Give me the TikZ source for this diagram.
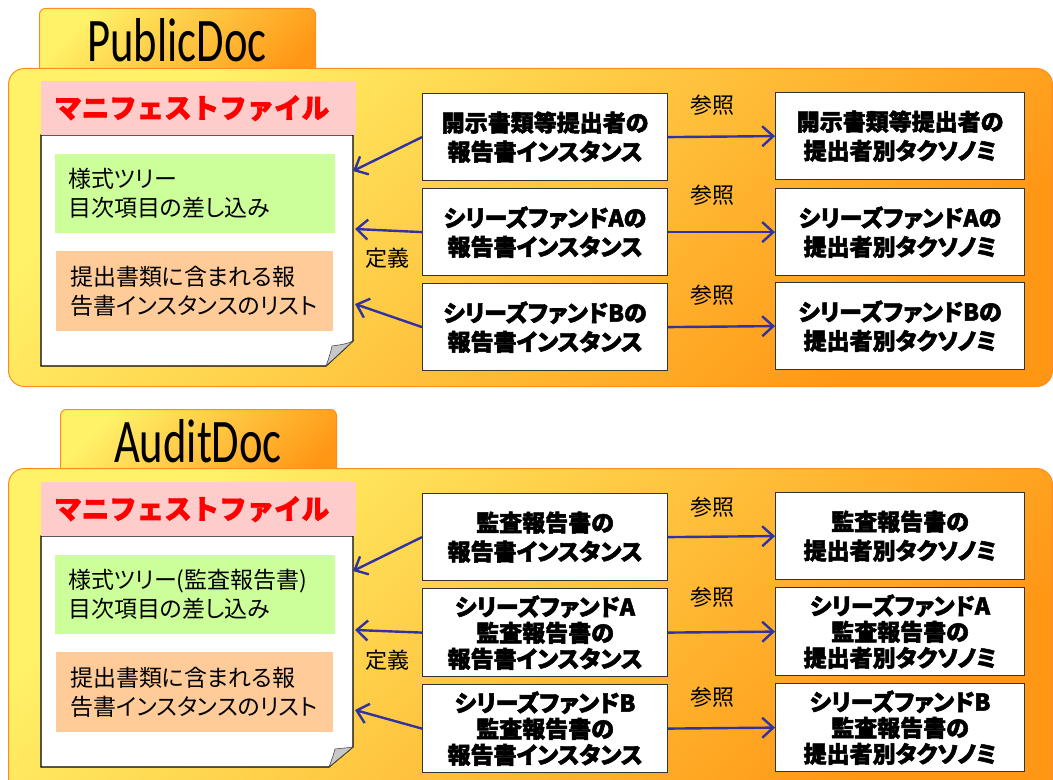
\documentclass[tikz,border=0pt]{standalone}
\usepackage{graphicx}
\usepackage{fontspec}
\setmainfont{Noto Sans CJK JP}
\newfontfamily\pfont{Noto Sans CJK JP}[RawFeature=+palt]
\newfontfamily\hvfont{Noto Sans CJK JP}[RawFeature=+palt, FakeBold=2.2]
\newfontfamily\hdfont{Noto Sans CJK JP}[FakeBold=2.2]
\newfontfamily\tabfont{Carlito}
\usetikzlibrary{arrows.meta}
\definecolor{ylw}{RGB}{255,242,105}
\definecolor{org}{RGB}{255,150,20}
\definecolor{pborder}{RGB}{255,140,30}
\definecolor{pinkhd}{RGB}{255,204,204}
\definecolor{grn}{RGB}{204,255,153}
\definecolor{orgbox}{RGB}{255,204,153}
\definecolor{arrblue}{RGB}{50,50,160}
\definecolor{foldgray}{RGB}{200,200,200}
\begin{document}
\begin{tikzpicture}[x=1bp,y=-1bp,
  panel/.style={draw=pborder, line width=1bp, rounded corners=16bp, top color=ylw, bottom color=org, shading angle=45, anchor=north west, inner sep=0pt, minimum width=1044bp, minimum height=318bp},
  tabbox/.style={draw=pborder, line width=1bp, rounded corners=6bp, top color=ylw, bottom color=org, shading angle=45, anchor=north west, inner sep=0pt, minimum width=276bp, minimum height=90bp},
  tabtext/.style={anchor=base, inner sep=0pt, font=\tabfont\fontsize{62bp}{62bp}\selectfont},
  hdr/.style={fill=pinkhd, anchor=north west, inner xsep=13bp, inner ysep=0pt, text width=289bp, minimum height=54bp, align=left, text=red, font=\hdfont\bfseries\fontsize{27.5bp}{30bp}\selectfont},
  docarea/.style={anchor=north west, inner sep=0pt, minimum width=312bp, minimum height=231bp},
  docline/.style={draw=black, line width=1.2bp, fill=white},
  fold/.style={draw=black!70, line width=0.6bp, fill=foldgray},
  grnbox/.style={fill=grn, anchor=north west, inner xsep=13bp, inner ysep=0pt, text width=254bp, minimum height=79bp, align=left, font=\pfont\fontsize{23bp}{29bp}\selectfont},
  orgbx/.style={fill=orgbox, anchor=north west, inner xsep=14bp, inner ysep=0pt, text width=249bp, minimum height=80bp, align=left, font=\pfont\fontsize{23bp}{29bp}\selectfont},
  ibox/.style={draw=black!80, line width=1.2bp, fill=white, anchor=north west, inner sep=0pt, minimum width=245bp, minimum height=87bp, align=center, font=\hvfont\bfseries\fontsize{23bp}{29bp}\selectfont},
  tbox/.style={ibox, minimum width=249bp},
  ibox3/.style={ibox, minimum height=88bp, font=\hvfont\bfseries\fontsize{23bp}{26bp}\selectfont},
  tbox3/.style={ibox3, minimum width=249bp},
  arr/.style={draw=arrblue, line width=2.4bp, -{Straight Barb[length=11bp,width=20bp,line width=2.4bp]}},
  lbl/.style={inner sep=0pt, font=\fontsize{22bp}{24bp}\selectfont}
]
\useasboundingbox (0,0) rectangle (1053,780);
\clip (0,0) rectangle (1053,780);

% ================= PublicDoc =================
\node[tabbox] (tab1) at (39,8) {};
\node[panel] (pan1) at (8,68) {};
\node[tabtext] (tab1t) at (177,62) {\scalebox{0.72}[1]{PublicDoc}};

\node[docarea] (doc1) at (41,135) {};
\draw[docline] (41,135) -- (41,366) -- (326,366) -- (353,341) -- (353,135) -- cycle;
\draw[fold] (326,366) .. controls (329,358) and (331,351) .. (332,346) .. controls (340,345) and (347,344) .. (353,341) -- cycle;
\node[hdr] (hdr1) at (41,81) {マニフェストファイル};
\node[grnbox] (g1) at (55,154) {様式ツリー\\目次項目の差し込み};
\node[orgbx] (o1) at (56,251) {提出書類に含まれる報\\告書インスタンスのリスト};

\node[ibox] (m11) at (422,93) {開示書類等提出者の\\報告書インスタンス};
\node[ibox] (m12) at (422,188) {シリーズファンドAの\\報告書インスタンス};
\node[ibox] (m13) at (422,283) {シリーズファンドBの\\報告書インスタンス};
\node[tbox] (r11) at (775,92) {開示書類等提出者の\\提出者別タクソノミ};
\node[tbox] (r12) at (775,188) {シリーズファンドAの\\提出者別タクソノミ};
\node[tbox] (r13) at (775,282) {シリーズファンドBの\\提出者別タクソノミ};

\coordinate (t11) at (353,171);
\coordinate (t12) at (355,229);
\coordinate (t13) at (355,304);
\draw[arr] (m11.west) -- (t11);
\draw[arr] (m12.west) -- (t12);
\draw[arr] (m13.west) -- (t13);
\node[lbl] (def1) at (387,258) {定義};

\draw[arr] (m11.east) -- (r11.west);
\draw[arr] (m12.east) -- (r12.west);
\draw[arr] (m13.east) -- (r13.west);
\node[lbl] (ref11) at (712,105) {参照};
\node[lbl] (ref12) at (712,195) {参照};
\node[lbl] (ref13) at (712,295) {参照};

% ================= AuditDoc =================
\node[tabbox] (tab2) at (60,409) {};
\node[panel, minimum height=330bp] (pan2) at (8,468) {};
\node[tabtext] (tab2t) at (198,462) {\scalebox{0.72}[1]{AuditDoc}};

\node[docarea] (doc2) at (41,536) {};
\draw[docline] (41,536) -- (41,767) -- (329,767) -- (353,747) -- (353,536) -- cycle;
\draw[fold] (329,767) .. controls (332,759) and (334,753) .. (335,749) .. controls (342,748) and (348,748) .. (353,747) -- cycle;
\node[hdr] (hdr2) at (41,482) {マニフェストファイル};
\node[grnbox] (g2) at (55,555) {様式ツリー(監査報告書)\\目次項目の差し込み};
\node[orgbx] (o2) at (56,652) {提出書類に含まれる報\\告書インスタンスのリスト};

\node[ibox] (m21) at (422,493) {監査報告書の\\報告書インスタンス};
\node[ibox3] (m22) at (422,588) {シリーズファンドA\\監査報告書の\\報告書インスタンス};
\node[ibox3] (m23) at (422,684) {シリーズファンドB\\監査報告書の\\報告書インスタンス};
\node[tbox] (r21) at (775,492) {監査報告書の\\提出者別タクソノミ};
\node[tbox3] (r22) at (775,587) {シリーズファンドA\\監査報告書の\\提出者別タクソノミ};
\node[tbox3] (r23) at (775,683) {シリーズファンドB\\監査報告書の\\提出者別タクソノミ};

\coordinate (t21) at (353,571);
\coordinate (t22) at (355,630);
\coordinate (t23) at (355,710);
\draw[arr] (m21.west) -- (t21);
\draw[arr] (m22.west) -- (t22);
\draw[arr] (m23.west) -- (t23);
\node[lbl] (def2) at (387,660) {定義};

\draw[arr] (m21.east) -- (r21.west);
\draw[arr] (m22.east) -- (r22.west);
\draw[arr] (m23.east) -- (r23.west);
\node[lbl] (ref21) at (712,507) {参照};
\node[lbl] (ref22) at (712,597) {参照};
\node[lbl] (ref23) at (712,697) {参照};
\end{tikzpicture}
\end{document}
